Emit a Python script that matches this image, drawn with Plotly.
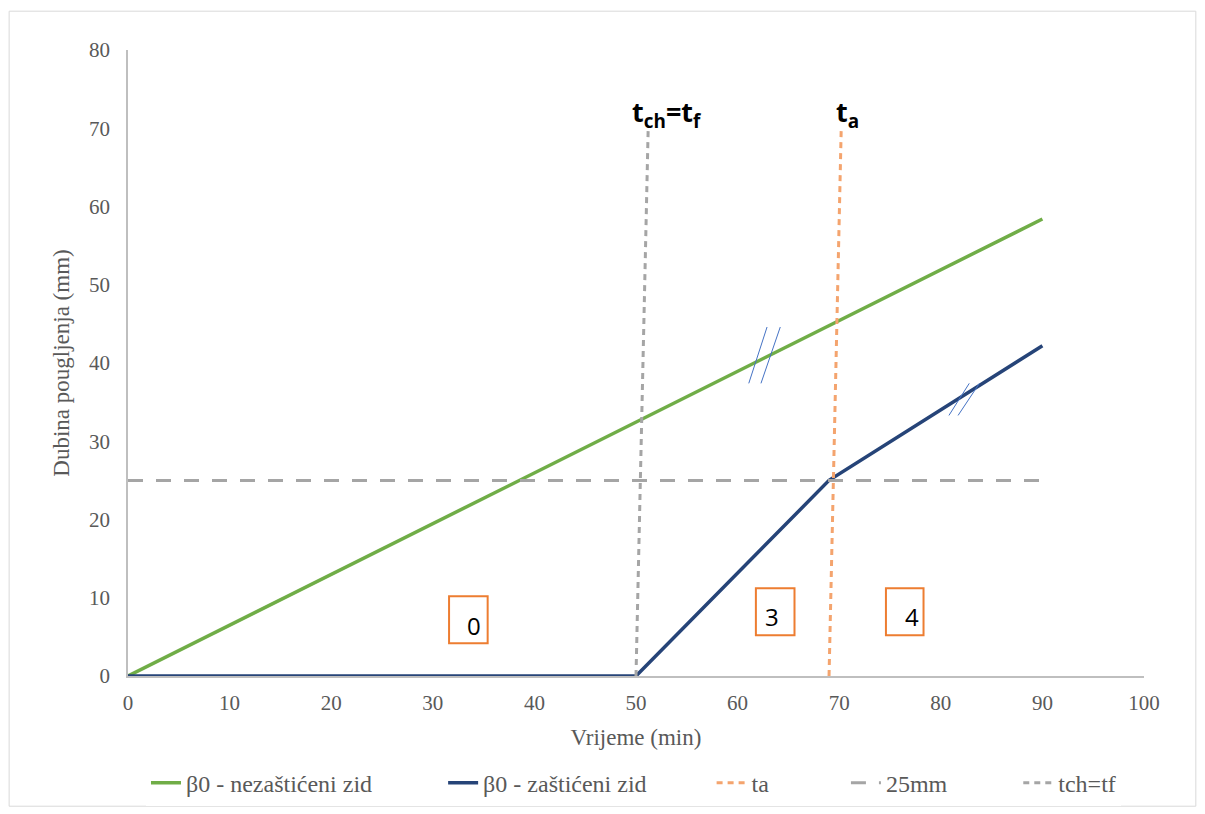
import plotly.graph_objects as go

# Data
x_green = [0, 90]
y_green = [0, 58.4]
x_blue = [0, 49, 50, 69, 90]
y_blue = [0, 0, 0, 25, 42.2]
x_ta = [69, 70.2]
y_ta = [0, 70]
x_25 = [0, 90]
y_25 = [25, 25]
x_tch = [50, 51.2]
y_tch = [0, 70]

names = ["β0 - nezaštićeni zid", "β0 - zaštićeni zid", "ta", "25mm", "tch=tf"]
NB = "\u00a0"
legend_pad = [11, 10, 12, 11, 0]

# region boxes
box_labels = ["0", "3", "4"]
box_x0 = [31.6, 61.8, 74.6]
box_x1 = [35.4, 65.6, 78.3]
box_y0 = [4.2, 5.2, 5.2]
box_y1 = [10.2, 11.2, 11.2]
box_tx = [34.1, 63.4, 77.2]
box_ty = [6.5, 7.6, 7.6]

# break marks (double slashes)
slash_x0 = [61.1, 62.3, 80.8, 81.7]
slash_x1 = [62.9, 64.2, 82.8, 83.8]
slash_y0 = [37.4, 37.4, 33.3, 33.3]
slash_y1 = [44.6, 44.6, 37.4, 37.4]

leg = [n + NB * p for n, p in zip(names, legend_pad)]

fig = go.Figure()
fig.add_trace(go.Scatter(x=x_green, y=y_green, mode="lines", name=leg[0],
                         line=dict(color="#70AD47", width=3.5)))
fig.add_trace(go.Scatter(x=x_blue, y=y_blue, mode="lines", name=leg[1],
                         line=dict(color="#264478", width=3.5)))
fig.add_trace(go.Scatter(x=x_ta, y=y_ta, mode="lines", name=leg[2],
                         line=dict(color="#F4A46E", width=3, dash="6px,5px")))
fig.add_trace(go.Scatter(x=x_25, y=y_25, mode="lines", name=leg[3],
                         line=dict(color="#A5A5A5", width=3, dash="15px,13px")))
fig.add_trace(go.Scatter(x=x_tch, y=y_tch, mode="lines", name=leg[4],
                         line=dict(color="#A5A5A5", width=3, dash="6px,5px")))

shapes = []
for i in range(len(box_labels)):
    shapes.append(dict(type="rect", xref="x", yref="y",
                       x0=box_x0[i], x1=box_x1[i], y0=box_y0[i], y1=box_y1[i],
                       line=dict(color="#ED7D31", width=2), fillcolor="white", layer="above"))
for i in range(len(slash_x0)):
    shapes.append(dict(type="line", xref="x", yref="y",
                       x0=slash_x0[i], x1=slash_x1[i], y0=slash_y0[i], y1=slash_y1[i],
                       line=dict(color="#4472C4", width=1)))
# chart border
shapes.append(dict(type="rect", xref="paper", yref="paper",
                   x0=-0.117, x1=1.051, y0=-0.208, y1=1.062,
                   line=dict(color="#D9D9D9", width=1), layer="below"))

annotations = []
for i in range(len(box_labels)):
    annotations.append(dict(x=box_tx[i], y=box_ty[i], xref="x", yref="y",
                            text=box_labels[i], showarrow=False,
                            font=dict(family="Open Sans", size=24, color="black")))
annotations.append(dict(x=49.4, y=69.0, xref="x", yref="y", xanchor="left", yanchor="bottom",
                        text="<b>t<sub>ch</sub>=t<sub>f</sub></b>", showarrow=False,
                        font=dict(family="Open Sans", size=27, color="black")))
annotations.append(dict(x=69.5, y=69.0, xref="x", yref="y", xanchor="left", yanchor="bottom",
                        text="<b>t<sub>a</sub></b>", showarrow=False,
                        font=dict(family="Open Sans", size=27, color="black")))

serif = "Liberation Serif"
fig.update_layout(
    width=1205, height=814,
    margin=dict(l=120, r=69, t=42, b=146),
    paper_bgcolor="white", plot_bgcolor="white",
    font=dict(family=serif, size=21, color="#595959"),
    showlegend=True,
    legend=dict(orientation="h", x=0.0177, xanchor="left", y=-0.171, yanchor="middle",
                font=dict(family=serif, size=24, color="#595959"),
                tracegroupgap=0),
    xaxis=dict(range=[0, 100], dtick=10, showgrid=False, zeroline=False,
               showline=True, linecolor="#BFBFBF", linewidth=1.5, ticks="",
               ticklabelstandoff=7,
               tickfont=dict(family=serif, size=21, color="#595959"),
               title=dict(text="Vrijeme (min)", standoff=15,
                          font=dict(family=serif, size=23, color="#595959"))),
    yaxis=dict(range=[0, 80], dtick=10, showgrid=False, zeroline=False,
               showline=True, linecolor="#BFBFBF", linewidth=1.5, ticks="",
               ticklabelstandoff=12,
               tickfont=dict(family=serif, size=21, color="#595959"),
               title=dict(text="Dubina pougljenja (mm)", standoff=13,
                          font=dict(family=serif, size=23, color="#595959"))),
    shapes=shapes,
    annotations=annotations,
)

fig.write_html("out.html")
